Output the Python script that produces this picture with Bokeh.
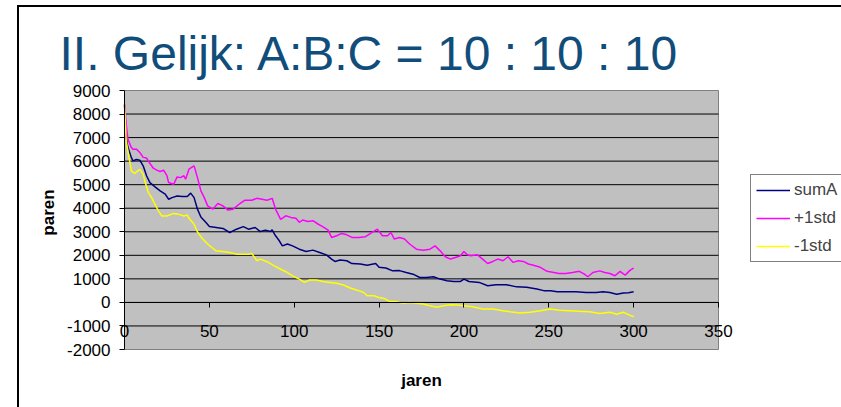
import math
from bokeh.plotting import figure
from bokeh.models import Range1d, FixedTicker, Legend, LegendItem, Label
from bokeh.embed import file_html
from bokeh.resources import INLINE

title_text = "II. Gelijk: A:B:C = 10 : 10 : 10"
x_label = "jaren"
y_label = "paren"
x_ticks = [0, 50, 100, 150, 200, 250, 300, 350]
y_ticks = [-2000, -1000, 0, 1000, 2000, 3000, 4000, 5000, 6000, 7000, 8000, 9000]

suma_x = [0, 1, 2, 4, 5, 7, 9, 11, 13, 15, 18, 21, 24, 26, 28, 31, 34, 37, 39, 41,
          43, 45, 48, 50, 54, 58, 62, 66, 70, 73, 77, 80, 83, 86, 87, 89, 91, 93, 96, 99,
          103, 107, 111, 115, 119, 122, 124, 127, 131, 134, 139, 143, 148, 150, 154, 158, 162, 166, 170, 174,
          178, 182, 186, 190, 194, 198, 200, 203, 209, 214, 219, 225, 231, 237, 243, 247, 251, 255, 260, 266,
          272, 278, 282, 286, 290, 294, 297, 300]
suma_y = [8400, 7000, 6600, 6160, 6010, 6070, 6040, 5800, 5380, 5090, 4910, 4740, 4600, 4380, 4450, 4520, 4500, 4500, 4640, 4450,
          3960, 3630, 3390, 3220, 3180, 3140, 2970, 3110, 3220, 3110, 3180, 3010, 3070, 3010, 3080, 2830, 2640, 2400, 2480, 2400,
          2260, 2160, 2220, 2120, 2020, 1840, 1740, 1800, 1770, 1650, 1630, 1580, 1650, 1490, 1460, 1340, 1350, 1270, 1200, 1060,
          1060, 1090, 990, 920, 890, 890, 990, 890, 850, 710, 750, 750, 660, 640, 570, 500, 500, 450, 450, 450,
          420, 420, 450, 420, 350, 400, 410, 450]

plus_x = [0, 1, 2, 4, 5, 7, 9, 11, 13, 15, 17, 19, 21, 23, 25, 26, 29, 31, 33, 35,
          36, 38, 40, 41, 43, 45, 47, 49, 52, 55, 58, 61, 64, 68, 71, 75, 78, 81, 84, 87,
          89, 92, 95, 98, 101, 103, 105, 108, 111, 114, 117, 120, 122, 125, 128, 131, 134, 138, 142, 145,
          149, 152, 155, 157, 159, 162, 165, 168, 172, 176, 180, 183, 186, 189, 192, 195, 198, 200, 202, 204,
          208, 211, 214, 217, 220, 223, 226, 229, 232, 235, 238, 241, 245, 249, 253, 256, 260, 264, 268, 271,
          273, 276, 280, 283, 286, 289, 292, 295, 298, 300]
plus_y = [8400, 7570, 6940, 6580, 6510, 6510, 6370, 6160, 6130, 5900, 5700, 5620, 5560, 5620, 5380, 5090, 5020, 5330, 5300, 5380,
          5230, 5660, 5760, 5800, 5300, 4740, 4450, 4100, 3960, 4200, 4100, 3920, 3960, 4200, 4340, 4340, 4420, 4380, 4340, 4420,
          3960, 3530, 3680, 3610, 3570, 3400, 3500, 3440, 3470, 3330, 3210, 3070, 2760, 2830, 2930, 2870, 2760, 2760, 2790, 2930,
          3110, 2830, 2830, 2970, 2690, 2760, 2690, 2480, 2260, 2220, 2260, 2400, 2190, 1940, 1840, 1910, 1980, 2160, 2020, 1980,
          2020, 1840, 1650, 1740, 1840, 1770, 1940, 1700, 1770, 1740, 1630, 1580, 1490, 1320, 1270, 1230, 1230, 1270, 1320, 1200,
          1090, 1270, 1340, 1270, 1230, 1130, 1320, 1160, 1370, 1460]

minus_x = [0, 1, 2, 4, 5, 6, 8, 9, 11, 12, 14, 16, 18, 20, 22, 25, 29, 32, 35, 37,
           38, 41, 43, 46, 49, 52, 54, 58, 62, 66, 70, 73, 75, 78, 80, 84, 88, 92, 96, 99,
           103, 106, 109, 113, 117, 121, 125, 129, 133, 137, 141, 143, 147, 150, 153, 156, 160, 164, 168, 172,
           176, 180, 184, 188, 192, 196, 200, 205, 211, 217, 223, 227, 233, 239, 245, 251, 256, 262, 268, 274,
           280, 286, 290, 294, 297, 300]
minus_y = [8400, 6870, 6440, 5600, 5520, 5480, 5600, 5650, 5450, 5160, 4670, 4450, 4160, 3890, 3670, 3670, 3780, 3740, 3670, 3710,
           3570, 3320, 2990, 2700, 2480, 2300, 2190, 2160, 2120, 2050, 2050, 2050, 2080, 1770, 1840, 1730, 1560, 1410, 1270, 1130,
           990, 850, 950, 950, 890, 850, 810, 740, 610, 520, 420, 280, 280, 210, 170, 40, 40, -40, 0, -40,
           -70, -140, -210, -140, -100, -110, -140, -180, -280, -280, -350, -400, -450, -420, -350, -280, -330, -350, -380, -400,
           -470, -420, -500, -420, -520, -610]

FONT = "Liberation Sans"

# page geometry (pixels)
W, H = 841, 407
AREA_L, AREA_R, AREA_T, AREA_B = 124, 718, 90, 349

x0, x1 = x_ticks[0], x_ticks[-1]
y0, y1 = y_ticks[0], y_ticks[-1]
sx = (AREA_R - AREA_L) / (x1 - x0)
sy = (AREA_B - AREA_T) / (y1 - y0)
x_range = Range1d(x0 - AREA_L / sx, x1 + (W - AREA_R) / sx)
y_range = Range1d(y0 - (H - AREA_B) / sy, y1 + AREA_T / sy)

frame_css = ("linear-gradient(#000,#000) 17px 5px / 2px 402px no-repeat, "
             "linear-gradient(#000,#000) 17px 5px / 824px 2px no-repeat, #ffffff")

p = figure(width=W, height=H, output_backend="svg", toolbar_location=None,
           x_range=x_range, y_range=y_range, min_border=0,
           styles={"background": frame_css})
p.border_fill_color = None
p.background_fill_color = None
p.outline_line_color = None
p.grid.visible = False

# plot area and horizontal gridlines
p.quad(left=[x0], right=[x1], bottom=[y0], top=[y1], fill_color="#C0C0C0",
       line_color="#808080", line_width=1, level="image")
grid_y = y_ticks[1:-1]
p.segment(x0=[x0] * len(grid_y), x1=[x1] * len(grid_y), y0=grid_y, y1=grid_y,
          line_color="black", line_width=1, level="underlay")

ya = p.yaxis[0]
ya.fixed_location = x0
ya.bounds = (y0, y1)
ya.ticker = FixedTicker(ticks=y_ticks)
ya.major_label_overrides = {t: str(t) for t in y_ticks}
ya.axis_line_color = "black"
ya.major_tick_line_color = "black"
ya.major_tick_in = 0
ya.major_tick_out = 5
ya.minor_tick_line_color = None
ya.major_label_standoff = 9
ya.major_label_text_font = FONT
ya.major_label_text_font_size = "17px"
ya.major_label_text_color = "black"

xa = p.xaxis[0]
xa.fixed_location = 0
xa.bounds = (x0, x1)
xa.ticker = FixedTicker(ticks=x_ticks)
xa.major_label_overrides = {t: str(t) for t in x_ticks}
xa.axis_line_color = "black"
xa.major_tick_line_color = "black"
xa.major_tick_in = 0
xa.major_tick_out = 5
xa.minor_tick_line_color = None
xa.major_label_standoff = 18
xa.major_label_text_font = FONT
xa.major_label_text_font_size = "17px"
xa.major_label_text_color = "black"

r1 = p.line(suma_x, suma_y, line_color="#000080", line_width=1.5)
r2 = p.line(plus_x, plus_y, line_color="#FF00FF", line_width=1.5)
r3 = p.line(minus_x, minus_y, line_color="#FFFF00", line_width=1.5)

lg = Legend(items=[LegendItem(label="sumA", renderers=[r1]),
                   LegendItem(label="+1std", renderers=[r2]),
                   LegendItem(label="-1std", renderers=[r3])],
            location=(750, H - 262))
lg.border_line_color = "black"
lg.border_line_width = 1
lg.background_fill_color = "white"
lg.background_fill_alpha = 1
lg.label_text_font = FONT
lg.label_text_font_size = "17px"
lg.glyph_width = 34
lg.glyph_height = 20
lg.label_height = 20
lg.spacing = 8
lg.padding = 5
lg.margin = 0
lg.label_standoff = 4
p.add_layout(lg)

p.add_layout(Label(x=59, y=H - 53, x_units="screen", y_units="screen", text=title_text,
                   text_font=FONT, text_font_size="48px", text_color="#114D7A",
                   text_align="left", text_baseline="alphabetic"))
p.add_layout(Label(x=421, y=H - 380, x_units="screen", y_units="screen", text=x_label,
                   text_font=FONT, text_font_size="17px", text_font_style="bold",
                   text_color="black", text_align="center", text_baseline="alphabetic"))
p.add_layout(Label(x=48, y=H - 212, x_units="screen", y_units="screen", text=y_label,
                   angle=math.pi / 2, text_font=FONT, text_font_size="17px",
                   text_font_style="bold", text_color="black",
                   text_align="center", text_baseline="alphabetic"))

open("out.html", "w").write(file_html(p, INLINE))
